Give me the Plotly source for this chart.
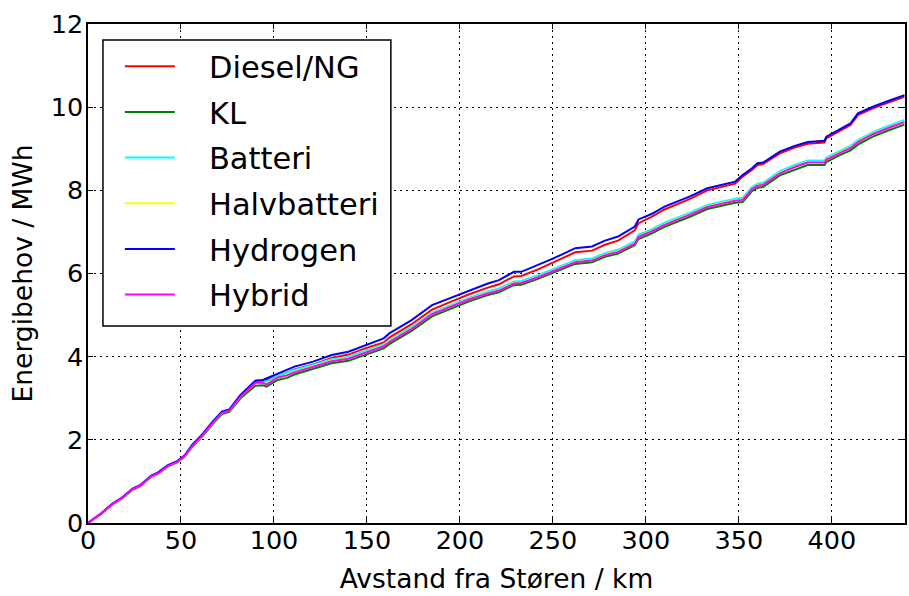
import plotly.graph_objects as go

# distance from Støren (km)
distance_km = [0, 3.6, 7, 13, 18, 24, 28, 34, 37.5, 43,
               48, 52, 56, 62, 67, 72, 76, 82, 87, 90,
               94, 96, 102, 107, 111, 121, 131, 140, 149, 159,
               162, 174, 185, 194, 205, 215, 221, 229, 233, 242,
               249, 255, 262, 271, 278, 285, 294, 296, 303, 310,
               317, 324, 333, 342, 348, 352, 357, 360, 363, 372,
               380, 387, 396, 397, 404, 410, 414, 422, 431, 439]

diesel_ng = [0, 0.11, 0.22, 0.45, 0.59, 0.81, 0.89, 1.12, 1.19, 1.37,
             1.47, 1.61, 1.86, 2.13, 2.41, 2.65, 2.70, 3.05, 3.26, 3.39,
             3.41, 3.45, 3.53, 3.61, 3.69, 3.81, 3.97, 4.05, 4.20, 4.34,
             4.46, 4.78, 5.13, 5.30, 5.50, 5.66, 5.74, 5.93, 5.94, 6.10,
             6.24, 6.36, 6.51, 6.55, 6.69, 6.79, 7.04, 7.21, 7.36, 7.54,
             7.67, 7.80, 8.00, 8.10, 8.16, 8.33, 8.49, 8.61, 8.63, 8.89,
             9.03, 9.12, 9.15, 9.25, 9.43, 9.57, 9.81, 9.97, 10.12, 10.25]

kl = [0, 0.11, 0.22, 0.44, 0.58, 0.80, 0.88, 1.11, 1.18, 1.36,
      1.46, 1.59, 1.83, 2.11, 2.38, 2.62, 2.67, 3.00, 3.20, 3.30,
      3.31, 3.28, 3.44, 3.49, 3.57, 3.70, 3.84, 3.90, 4.04, 4.20,
      4.30, 4.62, 4.97, 5.13, 5.33, 5.48, 5.55, 5.72, 5.73, 5.87,
      6.00, 6.10, 6.23, 6.27, 6.40, 6.48, 6.68, 6.83, 6.96, 7.12,
      7.24, 7.37, 7.55, 7.64, 7.70, 7.72, 7.98, 8.06, 8.08, 8.36,
      8.50, 8.61, 8.61, 8.68, 8.84, 8.96, 9.10, 9.29, 9.45, 9.58]

batteri = [0, 0.12, 0.23, 0.45, 0.60, 0.82, 0.90, 1.13, 1.20, 1.38,
           1.48, 1.62, 1.87, 2.15, 2.43, 2.67, 2.72, 3.07, 3.28, 3.42,
           3.43, 3.40, 3.54, 3.61, 3.68, 3.80, 3.94, 4.00, 4.14, 4.30,
           4.40, 4.72, 5.06, 5.22, 5.42, 5.57, 5.64, 5.81, 5.82, 5.96,
           6.09, 6.19, 6.32, 6.36, 6.49, 6.57, 6.77, 6.93, 7.06, 7.22,
           7.34, 7.47, 7.65, 7.74, 7.80, 7.82, 8.08, 8.16, 8.18, 8.46,
           8.61, 8.72, 8.72, 8.79, 8.95, 9.07, 9.21, 9.40, 9.56, 9.69]

halvbatteri = [0, 0.115, 0.225, 0.45, 0.59, 0.815, 0.895, 1.125, 1.19, 1.37,
               1.47, 1.61, 1.85, 2.13, 2.41, 2.65, 2.70, 3.04, 3.25, 3.37,
               3.37, 3.34, 3.50, 3.56, 3.63, 3.76, 3.90, 3.96, 4.10, 4.26,
               4.36, 4.68, 5.03, 5.19, 5.39, 5.53, 5.60, 5.77, 5.78, 5.92,
               6.05, 6.15, 6.28, 6.32, 6.45, 6.53, 6.73, 6.89, 7.02, 7.18,
               7.30, 7.43, 7.61, 7.70, 7.76, 7.78, 8.04, 8.12, 8.14, 8.42,
               8.57, 8.68, 8.68, 8.75, 8.91, 9.03, 9.17, 9.36, 9.52, 9.65]

hydrogen = [0, 0.12, 0.23, 0.46, 0.60, 0.83, 0.91, 1.14, 1.21, 1.39,
            1.49, 1.63, 1.88, 2.16, 2.44, 2.68, 2.73, 3.08, 3.29, 3.42,
            3.44, 3.48, 3.60, 3.68, 3.76, 3.88, 4.04, 4.12, 4.28, 4.44,
            4.56, 4.88, 5.24, 5.40, 5.60, 5.76, 5.84, 6.04, 6.04, 6.20,
            6.34, 6.46, 6.61, 6.65, 6.79, 6.89, 7.13, 7.30, 7.43, 7.61,
            7.73, 7.86, 8.05, 8.15, 8.21, 8.37, 8.53, 8.65, 8.67, 8.93,
            9.07, 9.16, 9.19, 9.29, 9.47, 9.61, 9.85, 10.01, 10.16, 10.29]

hybrid = [0, 0.115, 0.225, 0.45, 0.59, 0.815, 0.895, 1.125, 1.19, 1.37,
          1.47, 1.61, 1.85, 2.13, 2.41, 2.65, 2.70, 3.04, 3.25, 3.37,
          3.37, 3.33, 3.50, 3.55, 3.62, 3.75, 3.89, 3.95, 4.09, 4.25,
          4.35, 4.67, 5.02, 5.18, 5.38, 5.52, 5.59, 5.76, 5.77, 5.91,
          6.04, 6.14, 6.27, 6.31, 6.44, 6.52, 6.72, 6.88, 7.01, 7.17,
          7.29, 7.42, 7.60, 7.69, 7.75, 7.77, 8.03, 8.11, 8.13, 8.41,
          8.56, 8.67, 8.67, 8.74, 8.90, 9.02, 9.16, 9.35, 9.51, 9.64]

series_names = ["Diesel/NG", "KL", "Batteri", "Halvbatteri", "Hydrogen", "Hybrid"]
series_values = [diesel_ng, kl, batteri, halvbatteri, hydrogen, hybrid]
series_colors = ["#ff0000", "#008000", "#00ffff", "#ffff00", "#0000ff", "#ff00ff"]

x_ticks = [0, 50, 100, 150, 200, 250, 300, 350, 400]
y_ticks = [0, 2, 4, 6, 8, 10, 12]

FONT = "DejaVu Sans"
PAD = "\u00a0\u00a0\u00a0"  # gap between legend line sample and label

fig = go.Figure()
for name, vals, col in zip(series_names, series_values, series_colors):
    fig.add_trace(go.Scatter(x=distance_km, y=vals, name=PAD + name, mode="lines",
                             legendgroup=name,
                             line=dict(color=col, width=2)))

axis_common = dict(
    showline=True, linecolor="black", linewidth=1.5, mirror="ticks",
    ticks="inside", ticklen=5, tickwidth=1, tickcolor="black",
    showgrid=True, gridcolor="black", gridwidth=1, griddash="2px,4px",
    zeroline=False, tickfont=dict(family=FONT, size=25.5, color="black"),
)

fig.update_xaxes(range=[0, 439.3], tickvals=x_ticks, ticklabelstandoff=-6,
                 title=dict(text="Avstand fra Støren / km", standoff=15,
                            font=dict(family=FONT, size=26.5, color="black")),
                 **axis_common)
fig.update_yaxes(range=[0, 12], tickvals=y_ticks, ticklabelstandoff=-2,
                 title=dict(text="Energibehov / MWh", standoff=10,
                            font=dict(family=FONT, size=26.5, color="black")),
                 **axis_common)

# legend frame (matplotlib-style box behind the legend entries)
fig.add_shape(type="rect", xref="paper", yref="paper",
              x0=0.0183, x1=0.3707, y0=0.3948, y1=0.968,
              line=dict(color="black", width=1.5), fillcolor="white", layer="above")

fig.update_layout(
    width=909, height=596,
    margin=dict(l=88, r=2, t=24, b=73),
    plot_bgcolor="white", paper_bgcolor="white",
    font=dict(family=FONT, color="black"),
    legend=dict(x=0.039, y=0.968, xanchor="left", yanchor="top",
                bgcolor="rgba(0,0,0,0)", borderwidth=0,
                font=dict(family=FONT, size=30.5, color="black"),
                itemwidth=50, tracegroupgap=3),
    showlegend=True,
)

fig.write_html("out.html", config={"displayModeBar": False},
               post_script="document.body.style.margin='0';document.body.style.overflow='hidden';")
